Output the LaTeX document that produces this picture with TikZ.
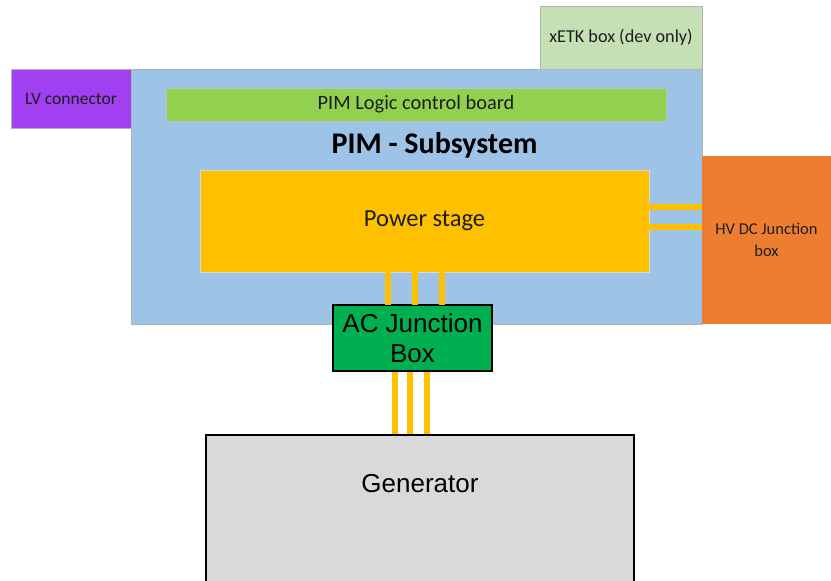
\documentclass[tikz,border=0pt]{standalone}
\usepackage{fontspec}
\setmainfont{Carlito}
\newfontfamily\arialfont{Liberation Sans}
\usetikzlibrary{calc}
\definecolor{pimblue}{HTML}{9DC3E6}
\definecolor{lvpurple}{HTML}{A040F0}
\definecolor{xetkgreen}{HTML}{C5E0B4}
\definecolor{logicgreen}{HTML}{92D050}
\definecolor{powyellow}{HTML}{FFC000}
\definecolor{hvorange}{HTML}{ED7D31}
\definecolor{acgreen}{HTML}{00B050}
\definecolor{gengray}{HTML}{D9D9D9}
\definecolor{txt}{HTML}{1E1E1E}
\begin{document}
\begin{tikzpicture}[x=1pt,y=1pt,
  blk/.style={anchor=north west,inner sep=0pt,outer sep=0pt,align=center,text=txt},
  soft/.style={draw=black!30,line width=0.6pt},
  hard/.style={draw=black,line width=1.5pt,text=black},
  bus/.style={draw=powyellow,line width=6.5pt}]
\useasboundingbox (0,0) rectangle (831,-581);
% PIM subsystem
\node[blk,soft,fill=pimblue,minimum width=571pt,minimum height=255pt] (pim) at (131,-69) {};
\node[blk,soft,fill=lvpurple,minimum width=120pt,minimum height=59pt,font=\fontsize{17.5}{19}\selectfont] (lv) at (11,-69) {LV connector};
\node[blk,soft,fill=xetkgreen,minimum width=162pt,minimum height=63pt,font=\fontsize{18.2}{20}\selectfont] (xetk) at (540,-6) {xETK box (dev only)};
\node[blk,draw=none,fill=hvorange,minimum width=129pt,minimum height=168pt,font=\fontsize{16.5}{21.5}\selectfont] (hv) at (702,-156) {HV DC Junction\\box};
\node[blk,draw=black!25,line width=0.5pt,fill=logicgreen,minimum width=500pt,minimum height=33pt,font=\fontsize{20.4}{22}\selectfont] (logic) at (166,-88) {PIM Logic control board};
\node[font=\bfseries\fontsize{30}{32}\selectfont,text=black,inner sep=0pt] (pimtitle) at (434.5,-145) {PIM - Subsystem};
\node[blk,draw=black!15,line width=0.5pt,fill=powyellow,minimum width=449pt,minimum height=102pt,font=\fontsize{24.5}{26}\selectfont] (ps) at (200,-170) {Power stage};
% DC buses
\draw[bus] ($(ps.north east)+(0,-37)$) -- ($(hv.north west)+(0,-51)$);
\draw[bus] ($(ps.north east)+(0,-57)$) -- ($(hv.north west)+(0,-71)$);
% AC box
\node[blk,hard,fill=acgreen,minimum width=159pt,minimum height=66pt,font=\arialfont\fontsize{26}{30.5}\selectfont] (ac) at (333,-305) {AC Junction\\Box};
% AC buses from power stage
\draw[bus] ($(ps.south west)+(188,0)$) -- ($(ac.north west)+(55,0)$);
\draw[bus] ($(ps.south west)+(215,0)$) -- ($(ac.north west)+(82,0)$);
\draw[bus] ($(ps.south west)+(242,0)$) -- ($(ac.north west)+(109,0)$);
% Generator
\node[blk,hard,fill=gengray,minimum width=428pt,minimum height=170pt] (gen) at (206,-435) {};
\node[font=\arialfont\fontsize{26}{30}\selectfont,text=black,inner sep=0pt] (genlabel) at (420,-484) {Generator};
% AC buses to generator
\draw[bus] ($(ac.south west)+(62,-0.75)$) -- ($(gen.north west)+(189,0.75)$);
\draw[bus] ($(ac.south west)+(77,-0.75)$) -- ($(gen.north west)+(204,0.75)$);
\draw[bus] ($(ac.south west)+(94,-0.75)$) -- ($(gen.north west)+(221,0.75)$);
\end{tikzpicture}
\end{document}
